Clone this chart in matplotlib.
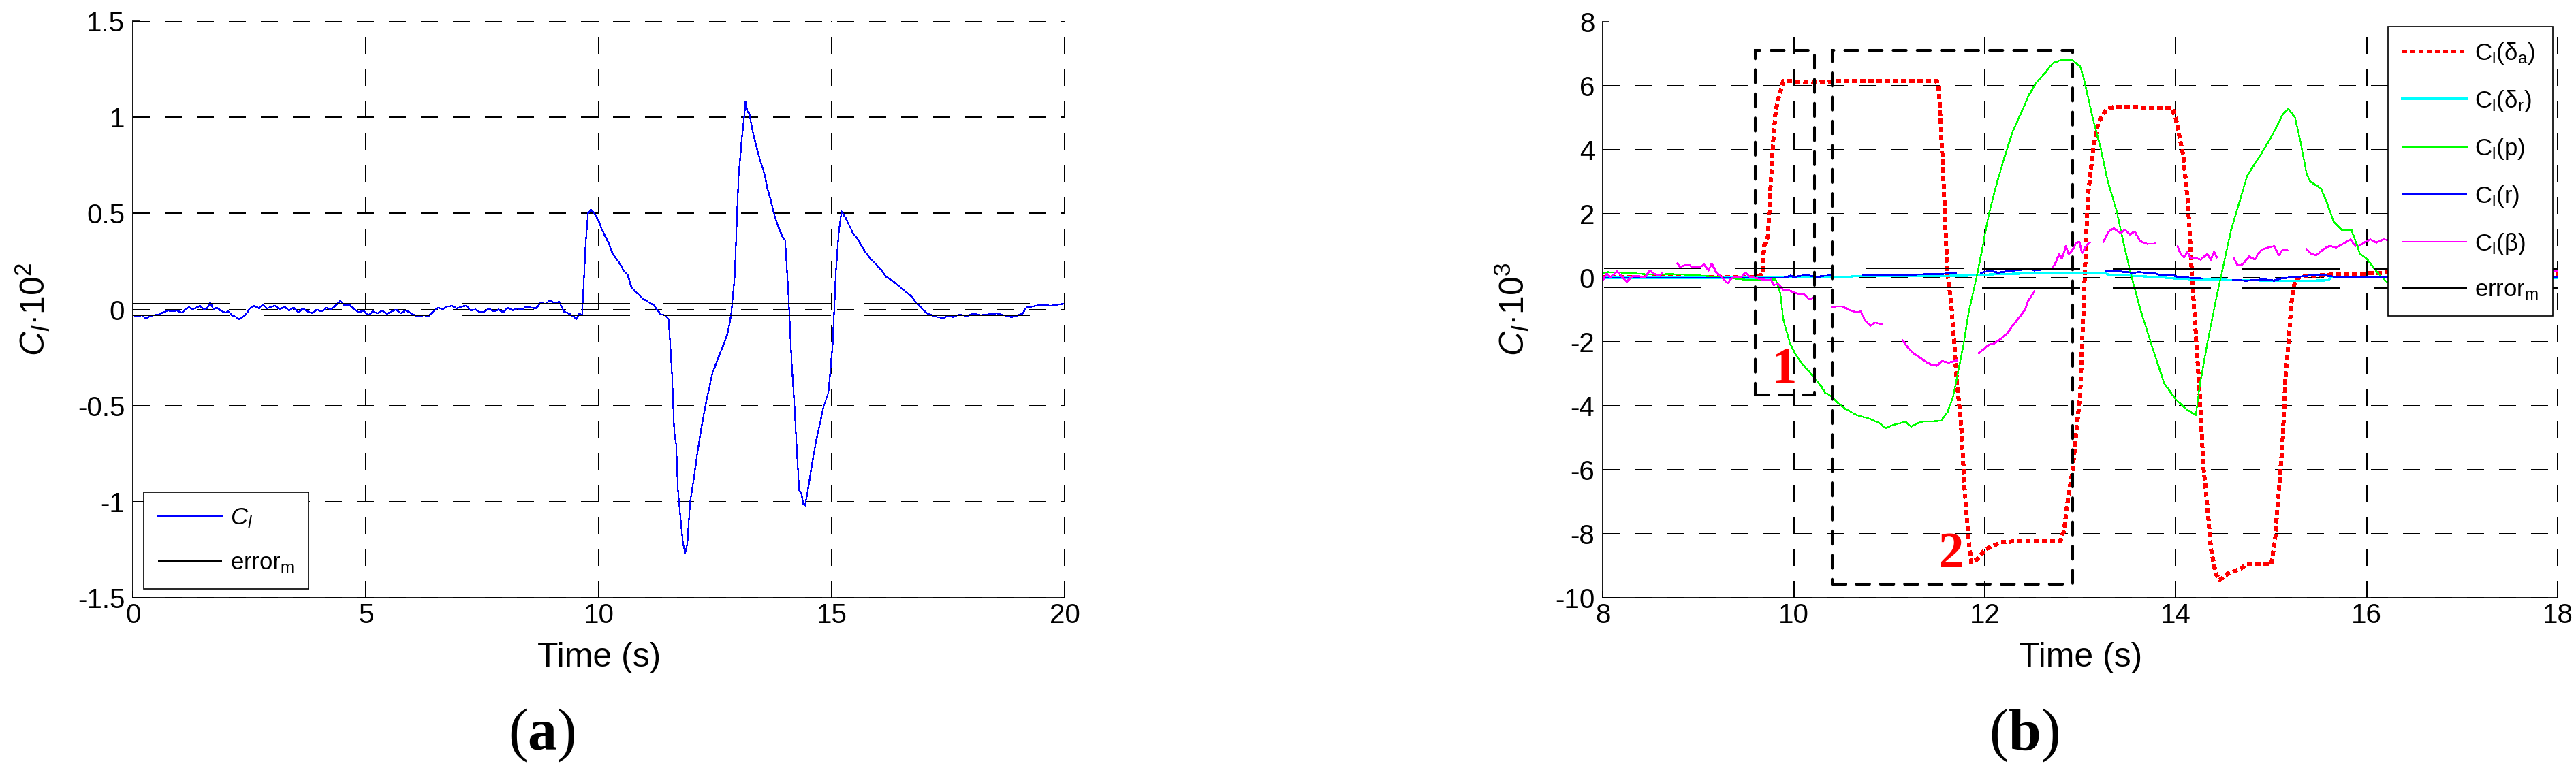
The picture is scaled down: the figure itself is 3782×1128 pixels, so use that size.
"""
Rolling-moment coefficient: total C_l (a) and its contributions (b).
"""
import numpy as np
import matplotlib
matplotlib.use("Agg")
import matplotlib.pyplot as plt
import matplotlib.patches as mpatches

plt.rcParams["font.family"] = ["Liberation Sans", "DejaVu Sans"]
plt.rcParams["mathtext.fontset"] = "custom"
plt.rcParams["mathtext.rm"] = "Liberation Sans"
plt.rcParams["mathtext.it"] = "Liberation Sans:italic"
plt.rcParams["mathtext.bf"] = "Liberation Serif:bold"
plt.rcParams["axes.unicode_minus"] = False
plt.rcParams["lines.scale_dashes"] = False
plt.rcParams["lines.antialiased"] = False

# ---------------- panel (a): C_l x 10^2 over 0..20 s ----------------
T_CL = [0.00, 0.10, 0.20, 0.27, 0.37, 0.45, 0.56, 0.65, 0.75, 0.85, 0.95, 1.05, 1.12, 1.20,
        1.27, 1.34, 1.44, 1.52, 1.59, 1.66, 1.73, 1.80, 1.88, 1.98, 2.05, 2.12, 2.22, 2.27,
        2.32, 2.41, 2.51, 2.61, 2.70, 2.80, 2.88, 2.95, 3.05, 3.15, 3.25, 3.35, 3.45, 3.55,
        3.65, 3.75, 3.85, 3.95, 4.05, 4.15, 4.25, 4.35, 4.45, 4.55, 4.65, 4.75, 4.85, 4.95,
        5.05, 5.15, 5.25, 5.35, 5.45, 5.55, 5.65, 5.75, 5.85, 5.95, 6.05, 6.15, 6.25, 6.35,
        6.45, 6.55, 6.65, 6.75, 6.85, 6.95, 7.05, 7.15, 7.25, 7.35, 7.45, 7.55, 7.65, 7.75,
        7.85, 7.95, 8.05, 8.15, 8.25, 8.35, 8.45, 8.55, 8.65, 8.75, 8.85, 8.95, 9.05, 9.15,
        9.25, 9.35, 9.45, 9.52, 9.58, 9.64, 9.67, 9.72, 9.77, 9.83, 9.90, 9.98, 10.06, 10.14,
        10.22, 10.30, 10.42, 10.54, 10.62, 10.70, 10.80, 10.93, 11.05, 11.17, 11.25, 11.33,
        11.42, 11.50, 11.57, 11.62, 11.66, 11.70, 11.76, 11.80, 11.85, 11.90, 11.96, 12.04,
        12.12, 12.20, 12.28, 12.36, 12.44, 12.52, 12.60, 12.68, 12.76, 12.84, 12.92, 12.96,
        13.00, 13.07, 13.12, 13.15, 13.19, 13.23, 13.30, 13.39, 13.47, 13.55, 13.62, 13.70,
        13.78, 13.87, 13.94, 14.00, 14.07, 14.14, 14.20, 14.23, 14.30, 14.35, 14.39, 14.43,
        14.50, 14.58, 14.66, 14.74, 14.82, 14.93, 15.02, 15.09, 15.15, 15.21, 15.29, 15.37,
        15.45, 15.57, 15.69, 15.81, 15.93, 16.05, 16.16, 16.30, 16.48, 16.60, 16.70, 16.80,
        16.88, 16.95, 17.05, 17.15, 17.27, 17.40, 17.50, 17.60, 17.75, 17.90, 18.05, 18.20,
        18.35, 18.54, 18.70, 18.86, 19.00, 19.10, 19.18, 19.30, 19.50, 19.70, 19.85, 19.97]
V_CL = [-0.030, -0.035, -0.030, -0.046, -0.035, -0.030, -0.026, -0.015, -0.005, -0.010,
        -0.005, -0.017, -0.002, 0.013, 0.000, 0.007, 0.019, 0.002, 0.007, 0.037, 0.000,
        0.010, -0.005, -0.017, -0.010, -0.028, -0.040, -0.052, -0.046, -0.030, 0.005, 0.019,
        0.007, 0.025, 0.005, 0.013, 0.020, 0.000, 0.015, -0.005, 0.010, -0.015, 0.005,
        -0.010, -0.020, 0.000, -0.010, 0.010, 0.000, 0.020, 0.045, 0.020, 0.025, 0.000,
        -0.015, -0.005, -0.030, -0.010, -0.020, -0.005, -0.025, -0.010, 0.000, -0.020,
        -0.005, -0.015, -0.030, -0.035, -0.030, -0.035, -0.010, 0.010, 0.000, 0.015, 0.020,
        0.005, 0.015, 0.020, -0.005, 0.000, -0.015, -0.010, 0.005, -0.010, 0.000, -0.015,
        0.010, -0.005, 0.005, 0.000, 0.015, 0.010, 0.005, 0.035, 0.030, 0.045, 0.035, 0.040,
        -0.010, -0.020, -0.035, -0.050, -0.020, -0.030, 0.10, 0.35, 0.50, 0.52, 0.50, 0.47,
        0.42, 0.38, 0.34, 0.29, 0.25, 0.20, 0.18, 0.115, 0.09, 0.06, 0.04, 0.025, 0.000,
        -0.025, -0.030, -0.050, -0.33, -0.64, -0.70, -0.94, -1.10, -1.20, -1.27, -1.22,
        -1.00, -0.88, -0.74, -0.62, -0.51, -0.42, -0.33, -0.28, -0.23, -0.18, -0.13, -0.03,
        0.18, 0.45, 0.69, 0.89, 1.00, 1.08, 1.03, 1.02, 0.93, 0.84, 0.77, 0.71, 0.63, 0.56,
        0.48, 0.42, 0.38, 0.36, 0.08, -0.28, -0.50, -0.64, -0.94, -0.96, -1.01, -1.02,
        -0.92, -0.80, -0.69, -0.60, -0.51, -0.43, -0.18, 0.20, 0.40, 0.51, 0.48, 0.44,
        0.40, 0.36, 0.31, 0.27, 0.24, 0.21, 0.17, 0.15, 0.115, 0.09, 0.07, 0.04, 0.02,
        0.000, -0.020, -0.030, -0.040, -0.045, -0.030, -0.040, -0.025, -0.035, -0.020,
        -0.030, -0.025, -0.020, -0.030, -0.040, -0.030, -0.020, 0.010, 0.015, 0.025, 0.020,
        0.025, 0.030]

ERR_A_LEVEL = 0.03
ERR_A_START = [0.0, 2.80, 7.08, 11.38, 15.69]
ERR_A_END = [2.09, 6.37, 10.67, 14.98, 19.25]

XTICKS_A = [0, 5, 10, 15, 20]
YTICKS_A = [-1.5, -1, -0.5, 0, 0.5, 1, 1.5]
YTICKLABELS_A = ["-1.5", "-1", "-0.5", "0", "0.5", "1", "1.5"]

# ---------------- panel (b): contributions x 10^3 over 8..18 s ----------------
T_DA = [8.0, 9.0, 9.6, 9.67, 9.69, 9.73, 9.76, 9.78, 9.81, 9.84, 9.89, 10.2, 10.5, 11.0,
        11.5, 11.52, 11.56, 11.61, 11.65, 11.71, 11.75, 11.79, 11.83, 11.86, 11.92, 12.0,
        12.17, 12.37, 12.79, 12.83, 12.87, 12.92, 12.96, 13.0, 13.04, 13.08, 13.14, 13.19,
        13.28, 13.38, 13.96, 14.0, 14.08, 14.13, 14.17, 14.21, 14.25, 14.29, 14.33, 14.37,
        14.42, 14.46, 14.54, 14.67, 14.75, 15.0, 15.04, 15.08, 15.12, 15.15, 15.18, 15.21,
        15.25, 15.31, 15.62, 15.96, 16.29, 17.0, 18.0]
V_DA = [0.02, 0.02, 0.02, 0.1, 1.0, 1.3, 3.0, 4.1, 5.2, 5.6, 6.15, 6.12, 6.15, 6.15,
        6.15, 5.85, 3.6, 0.1, -0.8, -3.3, -4.5, -6.6, -8.2, -8.9, -8.8, -8.5,
        -8.26, -8.23, -8.23, -7.9, -6.95, -6.0, -4.8, -3.6, -0.5, 2.55, 4.1, 4.85,
        5.3, 5.35, 5.3, 5.0, 3.8, 2.25, 0.1, -1.75, -3.6, -5.9, -7.1, -8.5,
        -9.25, -9.45, -9.25, -9.1, -8.95, -8.95, -8.2, -6.6, -5.1, -3.05, -2.05, -0.8,
        -0.05, 0.03, 0.1, 0.13, 0.18, 0.15, 0.1]

T_DR = [8.0, 9.7, 10.43, 10.6, 10.62, 11.53, 11.96, 12.0, 12.2, 12.5, 12.77, 13.27, 13.3,
        13.5, 13.77, 14.03, 14.24, 14.62, 15.24, 15.6, 15.62, 16.2, 18.0]
V_DR = [0.0, 0.0, 0.03, 0.03, 0.06, 0.06, 0.07, 0.1, 0.12, 0.14, 0.15, 0.14, 0.1,
        0.07, 0.03, -0.03, -0.05, -0.07, -0.1, -0.08, 0.02, 0.02, 0.0]

T_P = [8.0, 8.05, 8.3, 8.5, 8.7, 9.0, 9.3, 9.5, 9.65, 9.81, 9.86, 9.89, 9.96, 10.04, 10.12,
       10.21, 10.29, 10.33, 10.37, 10.46, 10.54, 10.67, 10.79, 10.9, 10.96, 11.04, 11.17,
       11.23, 11.33, 11.54, 11.61, 11.67, 11.71, 11.78, 11.83, 11.92, 11.98, 12.04, 12.13,
       12.21, 12.29, 12.38, 12.46, 12.54, 12.63, 12.71, 12.79, 12.92, 13.0, 13.04, 13.13,
       13.21, 13.29, 13.38, 13.46, 13.54, 13.63, 13.71, 13.79, 13.88, 14.0, 14.11, 14.21,
       14.25, 14.33, 14.42, 14.5, 14.58, 14.67, 14.75, 14.88, 15.0, 15.12, 15.18, 15.25,
       15.31, 15.37, 15.41, 15.52, 15.59, 15.65, 15.74, 15.84, 15.93, 16.0, 16.11, 16.2,
       16.3, 17.0, 18.0]
V_P = [0.12, 0.18, 0.15, 0.1, 0.12, 0.08, 0.0, -0.06, -0.07, -0.05, -0.5, -1.3, -2.05,
       -2.5, -2.8, -3.1, -3.4, -3.6, -3.65, -3.9, -4.1, -4.3, -4.4, -4.55, -4.7, -4.6, -4.5,
       -4.65, -4.5, -4.47, -4.2, -3.7, -3.1, -2.05, -1.1, 0.1, 1.0, 1.95, 3.0,
       3.8, 4.55, 5.15, 5.7, 6.1, 6.4, 6.7, 6.8, 6.8, 6.6, 6.2, 5.0,
       4.1, 3.0, 2.1, 1.0, 0.0, -1.0, -1.75, -2.5, -3.3, -3.8, -4.1, -4.3,
       -3.4, -2.05, -0.7, 0.4, 1.5, 2.4, 3.2, 3.8, 4.4, 5.1, 5.28, 5.0,
       4.2, 3.26, 3.0, 2.8, 2.3, 1.77, 1.5, 1.5, 0.75, 0.6, 0.17, -0.1,
       -0.28, -0.3, -0.32]

T_R = [8.0, 9.9, 9.95, 9.97, 10.0, 10.06, 10.13, 10.2, 10.25, 10.29, 10.38, np.nan,
       10.72, 11.2, 11.53, 11.65, 11.7, np.nan,
       11.96, 12.0, 12.07, 12.14, 12.24, 12.47, 12.52, 12.66, 12.95, np.nan,
       13.27, 13.37, 13.56, 13.61, 13.78, 13.85, 13.92, 13.95, 14.03, 14.15, 14.27, np.nan,
       14.6, 14.74, 14.93, 15.03, 15.1, 15.24, 15.5, 15.7, 16.0, 18.0]
V_R = [0.0, 0.0, 0.05, 0.07, 0.02, 0.06, 0.08, 0.05, 0.0, 0.06, 0.07, np.nan,
       0.07, 0.1, 0.12, 0.14, 0.14, np.nan,
       0.14, 0.19, 0.21, 0.16, 0.21, 0.28, 0.23, 0.28, 0.28, np.nan,
       0.23, 0.21, 0.16, 0.18, 0.14, 0.07, 0.07, 0.1, 0.02, 0.0, -0.02, np.nan,
       -0.07, -0.09, -0.05, -0.09, -0.02, 0.02, 0.1, 0.02, 0.03, 0.02]

T_B = [8.0, 8.04, 8.08, 8.15, 8.25, 8.31, 8.38, 8.44, 8.49, 8.54, 8.6, 8.62, np.nan,
       8.78, 8.81, 8.86, 8.91, 8.95, 9.03, 9.06, 9.11, 9.14, 9.19, 9.23, 9.28, 9.31, 9.34,
       9.38, 9.45, 9.49, 9.55, 9.61, 9.67, 9.73, 9.76, 9.79, 9.84, 9.89, 9.94, 10.01, 10.06,
       10.1, 10.16, 10.21, np.nan,
       10.4, 10.5, 10.58, 10.66, 10.7, 10.75, 10.8, 10.85, 10.92, np.nan,
       11.14, 11.2, 11.25, 11.3, 11.37, 11.43, 11.5, 11.55, 11.62, 11.71, np.nan,
       11.94, 12.04, 12.1, 12.17, 12.23, 12.29, 12.35, 12.42, 12.45, 12.52, np.nan,
       12.71, 12.74, 12.78, 12.81, 12.85, 12.88, 12.92, 12.95, 12.99, 13.02, 13.07, 13.1, np.nan,
       13.24, 13.3, 13.35, 13.42, 13.47, 13.52, 13.57, 13.62, 13.66, 13.7, 13.79, np.nan,
       14.02, 14.05, 14.09, 14.12, 14.16, 14.19, 14.26, 14.33, 14.37, 14.4, 14.43, np.nan,
       14.61, 14.65, 14.7, 14.77, 14.83, 14.86, 14.9, 14.97, 15.03, 15.08, 15.12, 15.18, np.nan,
       15.37, 15.42, 15.47, 15.55, 15.61, 15.68, 15.75, 15.83, 15.88, np.nan,
       15.92, 15.97, 16.04, 16.1, 16.18, 16.3, 16.5, 17.0, 17.5, 17.9, 18.0]
V_B = [-0.08, 0.13, 0.02, 0.2, -0.12, 0.05, 0.05, 0.0, 0.23, 0.13, 0.06, 0.16, np.nan,
       0.45, 0.34, 0.4, 0.39, 0.32, 0.36, 0.41, 0.23, 0.45, 0.16, 0.06, -0.08, -0.17, -0.04,
       0.02, 0.02, 0.16, 0.02, -0.01, -0.05, -0.08, -0.05, -0.22, -0.2, -0.38, -0.38, -0.46,
       -0.53, -0.5, -0.67, -0.62, np.nan,
       -0.9, -0.89, -1.0, -1.08, -1.05, -1.35, -1.5, -1.4, -1.45, np.nan,
       -1.95, -2.2, -2.35, -2.45, -2.6, -2.7, -2.75, -2.6, -2.65, -2.58, np.nan,
       -2.35, -2.1, -2.05, -1.9, -1.75, -1.5, -1.28, -1.0, -0.75, -0.42, np.nan,
       0.32, 0.46, 0.74, 0.6, 0.99, 0.74, 0.88, 1.06, 1.13, 0.78, 1.03, 1.1, np.nan,
       1.12, 1.45, 1.55, 1.4, 1.5, 1.35, 1.45, 1.18, 1.1, 1.06, 1.07, np.nan,
       0.99, 0.74, 0.64, 0.82, 0.6, 0.64, 0.57, 0.74, 0.57, 0.82, 0.64, np.nan,
       0.6, 0.38, 0.42, 0.67, 0.57, 0.74, 0.88, 0.95, 0.99, 0.7, 0.88, 0.85, np.nan,
       0.9, 0.75, 0.7, 0.9, 1.0, 0.95, 1.06, 1.2, 1.0, np.nan,
       1.0, 1.1, 1.2, 1.1, 1.2, 1.15, 1.0, 0.7, 0.4, 0.25, 0.22]

ERR_B_LEVEL = 0.3
ERR_B_THIN_START = [8.01, 9.38, 10.75]
ERR_B_THIN_END = [9.03, 10.40, 11.78]
ERR_B_START = [11.97, 13.34, 14.70, 16.07, 17.44]
ERR_B_END = [12.99, 14.36, 15.72, 17.09, 18.0]

BOX_X0 = [9.60, 10.40]
BOX_X1 = [10.22, 12.92]
BOX_Y0 = [-3.66, -9.58]
BOX_Y1 = [7.11, 7.11]
BOX_TAGS = ["1", "2"]
TAG_X = [9.90, 11.65]
TAG_Y = [-2.90, -8.65]

XTICKS_B = [8, 10, 12, 14, 16, 18]
YTICKS_B = [-10, -8, -6, -4, -2, 0, 2, 4, 6, 8]

TICK_FS = 29
LABEL_FS = 36
LEG_FS = 25
GRID_LS = (0, (17.5, 16.5))


def style_axes(ax):
    for side in ("top", "right"):
        ax.spines[side].set_visible(False)
    for side in ("left", "bottom"):
        ax.spines[side].set_linewidth(1.3)
    ax.grid(True, color="k", linestyle=GRID_LS, linewidth=1.4, antialiased=False)
    ax.set_axisbelow(True)
    ax.tick_params(direction="in", length=7, width=1.2, labelsize=TICK_FS,
                   top=False, right=False)
    ax.tick_params(axis="x", pad=5)
    ax.tick_params(axis="y", pad=8.5)


def legend_box(ax, **kw):
    leg = ax.legend(fontsize=LEG_FS, borderaxespad=0, fancybox=False, framealpha=1,
                    edgecolor="k", handlelength=2.7, handletextpad=0.35,
                    borderpad=0.6, labelspacing=0.95, **kw)
    leg.get_frame().set_linewidth(1.2)
    return leg


fig = plt.figure(figsize=(37.82, 11.28), dpi=100)
ax_a = fig.add_axes([0.0516, 0.2216, 0.3617, 0.7509])
ax_b = fig.add_axes([0.6222, 0.2216, 0.3707, 0.7500])

# ---- (a)
ax_a.plot(T_CL, V_CL, color="#0000ff", linewidth=0.85, label=r"$\mathit{C}_\mathit{l}$")
n = len(ERR_A_START)
ax_a.hlines([ERR_A_LEVEL] * n + [-ERR_A_LEVEL] * n, ERR_A_START * 2, ERR_A_END * 2,
            colors="k", linewidth=1.2, antialiased=False, label=r"error$_\mathregular{m}$")
ax_a.set_xlim(0, 20)
ax_a.set_ylim(-1.5, 1.5)
ax_a.set_xticks(XTICKS_A)
ax_a.set_xticklabels([str(v) for v in XTICKS_A])
ax_a.set_yticks(YTICKS_A)
ax_a.set_yticklabels(YTICKLABELS_A)
style_axes(ax_a)
legend_box(ax_a, loc="lower left", bbox_to_anchor=(0.0117, 0.0153))

# ---- (b)
ax_b.plot(T_DA, V_DA, color="#ff0000", linewidth=3.6, linestyle=(0, (5.0, 3.6)),
          dash_capstyle="butt", label=r"C$_\mathregular{l}$(δ$_\mathregular{a}$)")
ax_b.plot(T_DR, V_DR, color="#00ffff", linewidth=1.6,
          label=r"C$_\mathregular{l}$(δ$_\mathregular{r}$)")
ax_b.plot(T_P, V_P, color="#00ff00", linewidth=0.9, label=r"C$_\mathregular{l}$(p)")
ax_b.plot(T_R, V_R, color="#0000ff", linewidth=1.3, label=r"C$_\mathregular{l}$(r)")
ax_b.plot(T_B, V_B, color="#ff00ff", linewidth=1.2, label=r"C$_\mathregular{l}$(β)")
m = len(ERR_B_THIN_START)
ax_b.hlines([ERR_B_LEVEL] * m + [-ERR_B_LEVEL] * m, ERR_B_THIN_START * 2,
            ERR_B_THIN_END * 2, colors="k", linewidth=1.1, antialiased=False)
k = len(ERR_B_START)
ax_b.hlines([ERR_B_LEVEL] * k + [-ERR_B_LEVEL] * k, ERR_B_START * 2, ERR_B_END * 2,
            colors="k", linewidth=1.9, antialiased=False, label=r"error$_\mathregular{m}$")
for x0, x1, y0, y1, tag, tx, ty in zip(BOX_X0, BOX_X1, BOX_Y0, BOX_Y1, BOX_TAGS, TAG_X, TAG_Y):
    ax_b.add_patch(mpatches.Rectangle((x0, y0), x1 - x0, y1 - y0, fill=False,
                                      edgecolor="k", linewidth=2.9,
                                      linestyle=(0, (14, 11.5)), capstyle="round",
                                      zorder=5))
    ax_b.text(tx, ty, tag, color="#ff0000", fontsize=54, fontweight="bold",
              family="Liberation Serif", ha="center", va="center", zorder=6)
ax_b.set_xlim(8, 18)
ax_b.set_ylim(-10, 8)
ax_b.set_xticks(XTICKS_B)
ax_b.set_xticklabels([str(v) for v in XTICKS_B])
ax_b.set_yticks(YTICKS_B)
ax_b.set_yticklabels([str(v) for v in YTICKS_B])
style_axes(ax_b)
legend_box(ax_b, loc="upper right", bbox_to_anchor=(0.995, 0.992))

# ---- axis labels and panel tags
for ax, ylab, ylx in ((ax_a, r"$\mathit{C}_\mathit{l}$·10$^\mathregular{2}$", 48 / 3782),
                      (ax_b, r"$\mathit{C}_\mathit{l}$·10$^\mathregular{3}$", 2220 / 3782)):
    ax.set_xlabel("Time (s)", fontsize=LABEL_FS)
    ax.xaxis.set_label_coords(0.5, -0.077)
    fig.text(ylx, 1 - 454 / 1128, ylab, fontsize=LABEL_FS, rotation=90,
             ha="center", va="center")

for tag, x in (("a", 795), ("b", 2972)):
    fig.text(x / 3782, 1 - 1080 / 1128, "(" + r"$\mathbf{" + tag + "}$" + ")",
             fontsize=62, family="Liberation Serif", ha="center", va="center")

fig.savefig("out.png", dpi=100)
print("Saved -> out.png")
